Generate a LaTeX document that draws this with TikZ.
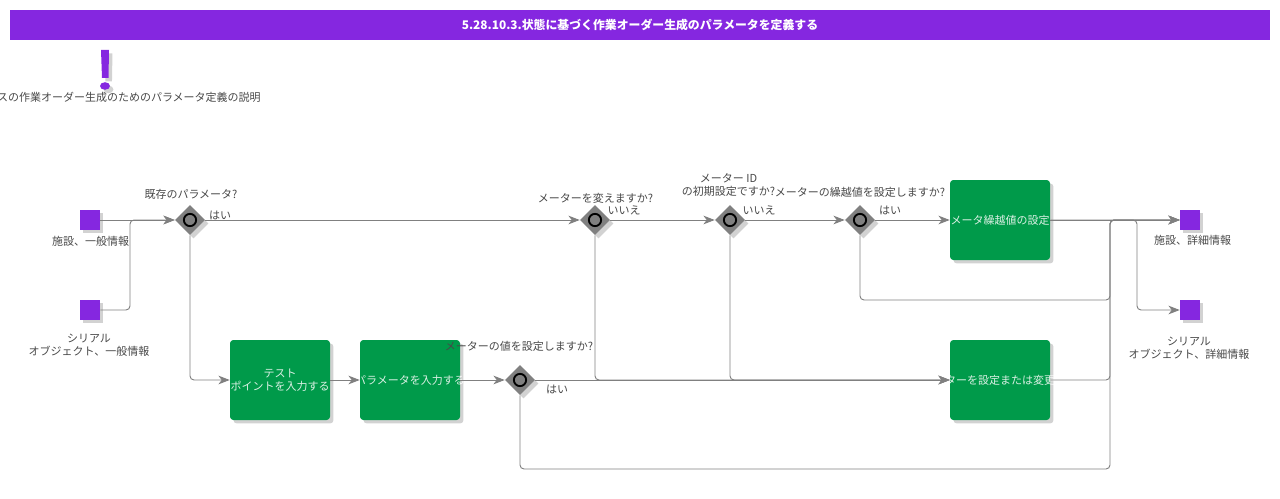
\documentclass[tikz,border=0pt]{standalone}
\usepackage{fontspec}
\setmainfont{Noto Sans CJK JP}
\usetikzlibrary{arrows.meta,shapes.geometric,shadows}
\definecolor{headviolet}{HTML}{8527E0}
\definecolor{taskgreen}{HTML}{009A4A}
\definecolor{flowgray}{HTML}{808080}
\definecolor{inkgray}{HTML}{484848}
\newcommand{\overrun}[1]{\makebox[0pt][c]{#1}}
\tikzset{
	softshadow/.style={drop shadow={shadow xshift=2.6pt,shadow yshift=-2.6pt,fill=black!35,opacity=.5}},
	endbox/.style={fill=headviolet,minimum size=15pt,inner sep=0pt,softshadow},
	taskbox/.style={fill=taskgreen,rounded corners=2.5pt,minimum width=75pt,minimum height=60pt,inner sep=0pt,text=white,text opacity=.85,align=center,softshadow},
	gatebox/.style={diamond,aspect=1,fill=flowgray,minimum size=22.5pt,inner sep=0pt,softshadow,
		path picture={\draw[line width=1.4pt,black] (path picture bounding box.center) circle (4.6pt);}},
	caption/.style={text=inkgray,align=center,inner sep=0pt},
	flow/.style={draw=flowgray,line width=.7pt,rounded corners=3pt,-{Stealth[length=8.5pt,width=6.5pt,inset=2.5pt,fill=flowgray]}},
}
\begin{document}
\begin{tikzpicture}[x=.75pt,y=-.75pt,font=\fontsize{8.25}{9.75}\selectfont]
	\useasboundingbox (0,0) rectangle (1280,499);
	
	\node (title) [fill=headviolet,minimum width=945pt,minimum height=22.5pt,inner sep=0pt,text=white,font=\fontsize{8.9}{11}\selectfont\bfseries] at (640,25) {5.28.10.3.状態に基づく作業オーダー生成のパラメータを定義する};
	
	\fill [headviolet,softshadow] (101,50) -- (109,50) -- (108.5,78) -- (102,78) -- cycle;
	\fill [headviolet,softshadow] (105,86) ellipse (5 and 3.8);
	\node (note) [caption,anchor=east] at (261,97) {スの作業オーダー生成のためのパラメータ定義の説明};
	
	\node (sA) [endbox] at (90,220) {};
	\node (sB) [endbox] at (90,310) {};
	\node (eA) [endbox] at (1190,220) {};
	\node (eB) [endbox] at (1190,310) {};
	\node (sAtext) [caption] at (90.5,241) {施設、一般情報};
	\node (sBtext) [caption] at (89,345) {シリアル\\オブジェクト、一般情報};
	\node (eAtext) [caption] at (1192.5,240) {施設、詳細情報};
	\node (eBtext) [caption] at (1189,348) {シリアル\\オブジェクト、詳細情報};
	
	\node (t1) [taskbox] at (280,380) {テスト\\ポイントを入力する};
	\node (t2) [taskbox] at (410,380) {\overrun{パラメータを入力する}};
	\node (t3) [taskbox] at (1000,220) {\overrun{メータ繰越値の設定}};
	\node (t4) [taskbox] at (1000,380) {\overrun{メーターを設定または変更する}};
	
	\node (g1) [gatebox] at (190,220) {};
	\node (g2) [gatebox] at (595,220) {};
	\node (g3) [gatebox] at (730,220) {};
	\node (g4) [gatebox] at (860,220) {};
	\node (g5) [gatebox] at (520,380) {};
	\node (g1text) [caption] at (191,194) {既存のパラメータ?};
	\node (g2text) [caption] at (595.5,198) {メーターを変えますか?};
	\node (g3text) [caption] at (728.5,185) {メーター ID\\の初期設定ですか?};
	\node (g4text) [caption] at (860,192) {メーターの繰越値を設定しますか?};
	\node (g5text) [caption] at (519,346) {メーターの値を設定しますか?};
	
	\coordinate (joinIn) at (130,220);
	\coordinate (splitOut) at (1137,220);
	\coordinate (joinOut) at (1110,220);
	\coordinate (joinUp) at (1110,300);
	\coordinate (joinLow) at (1110,469);
	
	\draw [flow] (sA.east) -- (g1.west);
	\draw [flow] (sB.east) -| (joinIn) -- (g1.west);
	\draw [flow] (g1.east) -- (g2.west);
	\draw [flow] (g1.south) |- (t1.west);
	\draw [flow] (t1.east) -- (t2.west);
	\draw [flow] (t2.east) -- (g5.west);
	\draw [flow] (g2.east) -- (g3.west);
	\draw [flow] (g3.east) -- (g4.west);
	\draw [flow] (g4.east) -- (t3.west);
	\draw [flow] (g5.east) -- (t4.west);
	\draw [flow] (g2.south) |- (t4.west);
	\draw [flow] (g3.south) |- (t4.west);
	\draw [flow] (t3.east) -- (eA.west);
	\draw [flow] (t3.east) -- (splitOut) |- (eB.west);
	\draw [flow] (g4.south) |- (joinUp) |- (eA.west);
	\draw [flow] (t4.east) -| (joinOut) -- (eA.west);
	\draw [flow] (g5.south) |- (joinLow) |- (eA.west);
	
	\node (yes1) [caption] at (220,215) {はい};
	\node (no2) [caption] at (624,210) {いいえ};
	\node (no3) [caption] at (759,210) {いいえ};
	\node (yes4) [caption] at (890,210) {はい};
	\node (yes5) [caption] at (557,389) {はい};
\end{tikzpicture}
\end{document}
